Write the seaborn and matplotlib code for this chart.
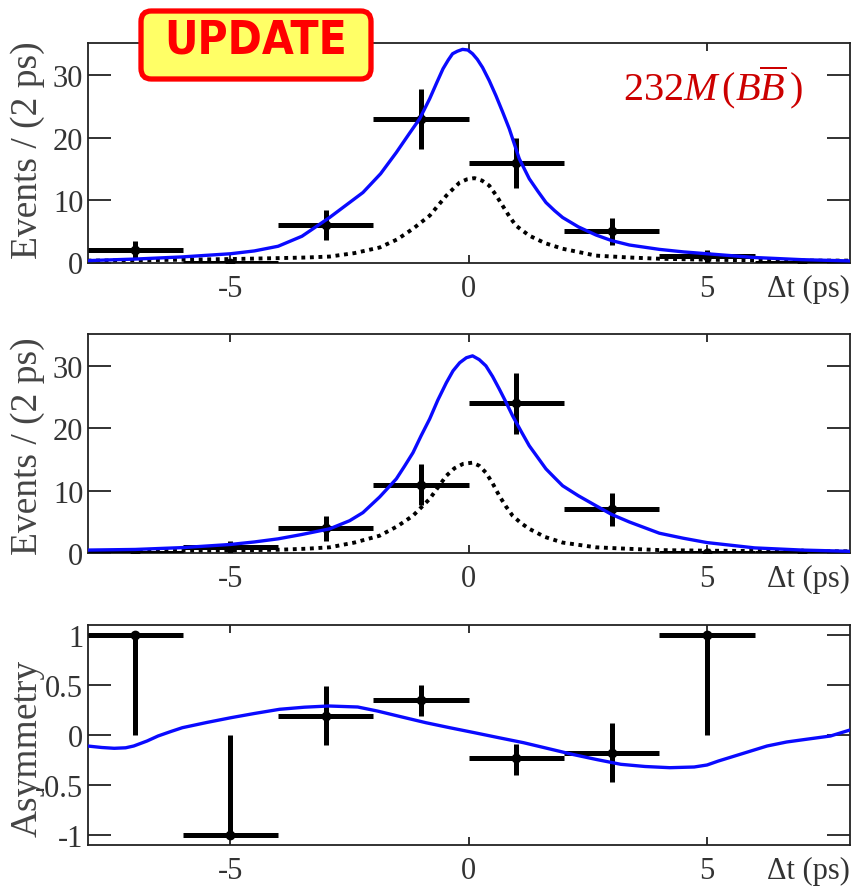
import numpy as np
import pandas as pd
import matplotlib
matplotlib.use("Agg")
import matplotlib.pyplot as plt
import seaborn as sns
from matplotlib.patches import FancyBboxPatch
from matplotlib import font_manager

# ---------------- data ----------------
bin_centers = [-7, -5, -3, -1, 1, 3, 5, 7]
bin_half_width = 1.0

top_counts = [2, 0, 6, 23, 16, 5, 1, 0]
top_errors = [1.4, 0, 2.4, 4.8, 4.0, 2.2, 1.0, 0]

mid_counts = [0, 1, 4, 11, 24, 7, 0, 0]
mid_errors = [0, 1.0, 2.0, 3.3, 4.9, 2.6, 0, 0]

asym_centers = [-7, -5, -3, -1, 1, 3, 5]
asym_values = [1.0, -1.0, 0.19, 0.35, -0.23, -0.18, 1.0]
asym_err_low = [1.0, 0.0, 0.29, 0.16, 0.17, 0.29, 1.0]
asym_err_high = [0.0, 1.0, 0.30, 0.15, 0.14, 0.30, 0.0]

# fitted curves
top_fit_x = [-8, -7, -6, -5, -4.5, -4, -3.5, -2.92, -2.5, -2.22, -1.85, -1.52, -1.25, -1.03, -0.82,
             -0.67, -0.54, -0.43, -0.34, -0.24, -0.13, -0.02, 0.08, 0.18, 0.29, 0.43, 0.57,
             0.71, 0.85, 1.06, 1.27, 1.45, 1.62, 1.8, 1.97, 2.3, 2.67, 3.0, 3.37, 4, 4.5, 5, 6, 7, 8]
top_fit_y = [0.3, 0.55, 0.9, 1.4, 1.85, 2.6, 4.2, 7.2, 9.6, 11.2, 14.2, 17.6, 20.6, 23.0, 26.2,
             28.8, 31.0, 32.4, 33.4, 33.8, 34.1, 34.0, 33.4, 32.5, 31.2, 29.1, 26.7,
             24.1, 21.4, 16.6, 13.4, 11.4, 9.6, 8.3, 7.2, 5.7, 4.4, 3.5, 2.8, 2.1, 1.7, 1.4, 0.8, 0.45, 0.25]

top_bkg_x = [-8, -7, -6, -5, -4, -3.4, -2.92, -2.4, -1.87, -1.5, -1.17, -0.82, -0.47, -0.3, -0.19,
             -0.04, 0.12, 0.28, 0.43, 0.57, 0.71, 0.85, 0.99, 1.27, 1.6, 1.97, 2.67, 3.37,
             4, 5, 6, 7, 8]
top_bkg_y = [0.3, 0.35, 0.45, 0.55, 0.7, 0.8, 0.95, 1.5, 2.4, 3.7, 5.4, 7.5, 10.7, 12.0, 12.8,
             13.3, 13.5, 13.1, 12.3, 10.8, 9.1, 7.4, 5.9, 4.3, 3.1, 2.2, 1.1, 0.8,
             0.6, 0.45, 0.35, 0.3, 0.3]

mid_fit_x = [-8, -7, -6, -5, -4.5, -4, -3.5, -2.92, -2.5, -2.22, -1.87, -1.52, -1.35, -1.17, -1.0,
             -0.82, -0.65, -0.47, -0.33, -0.19, -0.05, 0.08, 0.22, 0.36, 0.5, 0.64, 0.78,
             0.92, 1.1, 1.27, 1.45, 1.62, 1.8, 1.97, 2.3, 2.67, 3.0, 3.37, 4, 4.5, 5, 6, 7, 8]
mid_fit_y = [0.5, 0.6, 0.9, 1.4, 1.8, 2.3, 3.0, 3.9, 5.2, 6.5, 9.0, 11.9, 13.9, 16.1, 18.8,
             21.5, 24.5, 27.3, 29.2, 30.5, 31.3, 31.6, 31.0, 30.0, 28.3, 26.3, 24.2,
             22.0, 19.5, 17.2, 15.3, 13.5, 12.1, 10.8, 9.2, 7.6, 6.2, 5.0, 3.2, 2.4, 1.7, 0.85, 0.5, 0.3]

mid_bkg_x = [-8, -7, -6, -5, -4, -3.4, -2.92, -2.4, -1.87, -1.5, -1.17, -0.82, -0.47, -0.3, -0.12,
             0.08, 0.22, 0.36, 0.5, 0.64, 0.78, 0.92, 1.1, 1.27, 1.6, 1.97, 2.67, 3.37,
             4, 5, 6, 7, 8]
mid_bkg_y = [0.3, 0.3, 0.35, 0.45, 0.55, 0.72, 0.94, 1.7, 2.8, 4.3, 6.0, 8.7, 12.4, 13.6, 14.3,
             14.5, 14.0, 12.9, 11.2, 9.2, 7.5, 6.0, 4.8, 3.9, 2.6, 1.7, 0.94, 0.7,
             0.5, 0.4, 0.35, 0.3, 0.3]

asym_fit_x = [-8, -7.7, -7.44, -7.2, -7.03, -6.75, -6.52, -6.25, -6.01, -5.5, -4.99, -4.5,
              -3.97, -3.45, -2.94, -2.33, -1.92, -1.4, -0.9, -0.4, 0.12, 0.63, 1.15, 1.66,
              2.17, 2.68, 3.19, 3.7, 4.22, 4.73, 5.0, 5.24, 5.75, 6.26, 6.67, 7.08, 7.59, 8]
asym_fit_y = [-0.11, -0.125, -0.133, -0.128, -0.11, -0.06, -0.01, 0.035, 0.073, 0.125, 0.173, 0.215,
              0.257, 0.278, 0.29, 0.28, 0.24, 0.18, 0.123, 0.073, 0.023, -0.027, -0.077, -0.135,
              -0.193, -0.245, -0.293, -0.315, -0.327, -0.32, -0.3, -0.26, -0.185, -0.11, -0.07,
              -0.043, -0.01, 0.05]

x_ticks = [-5, 0, 5]
count_ticks = [0, 10, 20, 30]
asym_ticks = [-1, -0.5, 0, 0.5, 1]
asym_tick_labels = ["-1", "-0.5", "0", "0.5", "1"]

# ---------------- style ----------------
sns.set_theme(style="ticks")
plt.rcParams["font.family"] = ["Liberation Serif", "DejaVu Serif"]
plt.rcParams["mathtext.fontset"] = "custom"
plt.rcParams["mathtext.rm"] = "Liberation Serif"
plt.rcParams["mathtext.it"] = "Liberation Serif:italic"

W, H = 855, 887
fig = plt.figure(figsize=(W / 100, H / 100), dpi=100)
fig.patch.set_facecolor("white")

def fig_rect(left, top, right, bottom):
    return [left / W, 1 - bottom / H, (right - left) / W, (bottom - top) / H]

ax_top = fig.add_axes(fig_rect(87.5, 43.5, 850, 263.5))
ax_mid = fig.add_axes(fig_rect(87.5, 335, 850, 554.2))
ax_bot = fig.add_axes(fig_rect(87.5, 626, 850, 846))

tick_fs = 22
ylab_fs = 27
blue = "#0a0aff"

def style_axes(ax, ylim, yticks, ylabels, ylabel, ylab_y):
    ax.set_facecolor("white")
    ax.set_xlim(-8, 8)
    ax.set_ylim(*ylim)
    ax.set_xticks(x_ticks)
    ax.set_xticklabels([str(t) for t in x_ticks])
    ax.set_yticks(yticks)
    ax.set_yticklabels(ylabels)
    ax.minorticks_off()
    for sp in ax.spines.values():
        sp.set_visible(True)
        sp.set_linewidth(1.3)
        sp.set_color("#222222")
    ax.tick_params(axis="x", direction="in", top=True, bottom=True, length=6,
                   width=1.3, labelsize=tick_fs, pad=8, colors="#222222", labelcolor="#333333")
    ax.tick_params(axis="y", direction="in", left=True, right=True, length=16.5,
                   width=1.3, labelsize=tick_fs, pad=3, colors="#222222", labelcolor="#333333")
    ax.set_ylabel(ylabel, fontsize=ylab_fs, color="#444444")
    ax.yaxis.set_label_coords(-0.056, ylab_y)
    ax.set_xlabel("")
    ax.annotate("\u0394t (ps)", xy=(1, 0), xycoords="axes fraction",
                xytext=(0, -8), textcoords="offset points", ha="right", va="top",
                fontsize=tick_fs, color="#333333")

def draw_points(ax, xs, ys, yerr_low, yerr_high):
    ax.errorbar(xs, ys, xerr=bin_half_width, yerr=[yerr_low, yerr_high],
                fmt="o", color="black", ms=6, lw=3.6, elinewidth=3.6,
                capsize=0, zorder=3)

dot_style = (0, (1, 1.2))

# top panel
sns.lineplot(x=top_bkg_x, y=top_bkg_y, ax=ax_top, color="black", lw=2.8,
             linestyle=dot_style, zorder=2, sort=False)
sns.lineplot(x=top_fit_x, y=top_fit_y, ax=ax_top, color=blue, lw=2.4, zorder=4, sort=False)
draw_points(ax_top, bin_centers, top_counts, top_errors, top_errors)
style_axes(ax_top, (0, 35.2), count_ticks, [str(t) for t in count_ticks], "Events / (2 ps)", 0.515)

# middle panel
sns.lineplot(x=mid_bkg_x, y=mid_bkg_y, ax=ax_mid, color="black", lw=2.8,
             linestyle=dot_style, zorder=2, sort=False)
sns.lineplot(x=mid_fit_x, y=mid_fit_y, ax=ax_mid, color=blue, lw=2.4, zorder=4, sort=False)
draw_points(ax_mid, bin_centers, mid_counts, mid_errors, mid_errors)
style_axes(ax_mid, (0, 35.1), count_ticks, [str(t) for t in count_ticks], "Events / (2 ps)", 0.495)

# bottom panel
sns.lineplot(x=asym_fit_x, y=asym_fit_y, ax=ax_bot, color=blue, lw=2.4, zorder=4, sort=False)
draw_points(ax_bot, asym_centers, asym_values, asym_err_low, asym_err_high)
style_axes(ax_bot, (-1.1, 1.1), asym_ticks, asym_tick_labels, "Asymmetry", 0.445)

# annotation text
ax_top.text(0.938, 0.80, r"$\mathit{232M\,(B\overline{B}\,)}$", transform=ax_top.transAxes,
            ha="right", va="center", fontsize=29, color="#CC0000")

# UPDATE badge
bx0, by0, bw, bh = 141 / W, 1 - 80 / H, 230 / W, 68 / H
badge = FancyBboxPatch((bx0, by0), bw, bh,
                       boxstyle="round,pad=0,rounding_size=0.012",
                       transform=fig.transFigure, facecolor="#FFFF66",
                       edgecolor="#FF0000", linewidth=3.8, zorder=10)
fig.patches.append(badge)

narrow_path = None
for f in font_manager.fontManager.ttflist:
    fn = f.fname.lower()
    if ("narrow" in fn or "condensed" in fn) and ("bold" in fn) and ("oblique" not in fn) \
            and ("italic" not in fn) and ("sans" in fn):
        if narrow_path is None or "liberation" in fn:
            narrow_path = f.fname
if narrow_path is not None:
    upd_font = font_manager.FontProperties(fname=narrow_path, size=33)
else:
    upd_font = font_manager.FontProperties(family="DejaVu Sans", weight="bold", size=28)
fig.text(256 / W, 1 - 41 / H, "UPDATE", ha="center", va="center",
         fontproperties=upd_font, color="#FF0000", zorder=11)

fig.savefig("out.png", dpi=100)
